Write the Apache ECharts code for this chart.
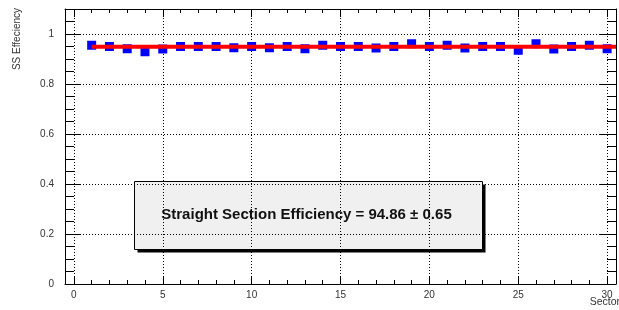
<!DOCTYPE html>
<html lang="en">
<head>
<meta charset="UTF-8">
<title>SS Effeciency</title>
<script src="https://cdn.jsdelivr.net/npm/echarts@6/dist/echarts.min.js"></script>
<style>
  html, body { margin: 0; padding: 0; background: #fff; }
  #main { width: 619px; height: 310px; }
</style>
</head>
<body>
<div id="main"></div>
<script>
// sectors 1..30 and the straight section efficiency per sector
var sectors = [1, 2, 3, 4, 5, 6, 7, 8, 9, 10, 11, 12, 13, 14, 15,
               16, 17, 18, 19, 20, 21, 22, 23, 24, 25, 26, 27, 28, 29, 30];
var efficiency = [0.955, 0.950, 0.941, 0.929, 0.940, 0.950, 0.950, 0.950, 0.945, 0.950,
                  0.945, 0.950, 0.941, 0.955, 0.950, 0.950, 0.944, 0.950, 0.961, 0.950,
                  0.955, 0.944, 0.950, 0.950, 0.935, 0.961, 0.940, 0.950, 0.955, 0.941];
// constant fit result
var fitValue = 0.9486;
var fitStart = 1;
var xMin = -0.5, xMax = 30.5;
var yMin = 0, yMax = 1.1;
var boxText = 'Straight Section Efficiency = 94.86 \u00b1 0.65';

var myChart = echarts.init(document.getElementById('main'));

var scatterData = sectors.map(function (s, i) { return [s, efficiency[i]]; });
var fitData = [[fitStart, fitValue], [xMax, fitValue]];

function xLabel(v) {
    var r = Math.round(v);
    return (Math.abs(v - r) < 1e-6 && r % 5 === 0) ? String(r) : '';
}
function yLabel(v) {
    var r = Math.round(v * 5) / 5;
    return (Math.abs(v - r) < 1e-6 && v <= 1.0001) ? String(+v.toFixed(1)) : '';
}

var lineBlack = { color: '#000', width: 1 };
var dotted = { color: '#000', width: 1, type: [1, 2] };

option = {
    animation: false,
    backgroundColor: '#fff',
    grid: { left: 65, right: -2, top: 9, bottom: 26 },
    xAxis: [
        {
            type: 'value', position: 'bottom', min: xMin, max: xMax,
            axisLine: { show: true, onZero: false, lineStyle: lineBlack },
            axisTick: { show: true, inside: true, length: 8, lineStyle: lineBlack },
            minorTick: { show: true, splitNumber: 5, length: 4, lineStyle: lineBlack },
            splitLine: { show: true, lineStyle: dotted },
            axisLabel: {
                formatter: xLabel, margin: 6, color: '#333',
                fontFamily: 'Liberation Sans', fontSize: 10,
                showMinLabel: true, showMaxLabel: true
            }
        },
        {
            type: 'value', position: 'top', min: xMin, max: xMax,
            axisLine: { show: true, onZero: false, lineStyle: lineBlack },
            axisTick: { show: true, inside: true, length: 8, lineStyle: lineBlack },
            minorTick: { show: true, splitNumber: 5, length: 4, lineStyle: lineBlack },
            splitLine: { show: false },
            axisLabel: { show: false }
        }
    ],
    yAxis: [
        {
            type: 'value', position: 'left', min: yMin, max: yMax,
            axisLine: { show: true, onZero: false, lineStyle: lineBlack },
            axisTick: { show: true, inside: true, length: 16, lineStyle: lineBlack },
            minorTick: { show: true, splitNumber: 4, length: 9, lineStyle: lineBlack },
            splitLine: { show: true, lineStyle: dotted },
            axisLabel: {
                formatter: yLabel, margin: 11, color: '#333',
                fontFamily: 'Liberation Sans', fontSize: 10
            }
        },
        {
            type: 'value', position: 'right', min: yMin, max: yMax,
            axisLine: { show: true, onZero: false, lineStyle: lineBlack },
            axisTick: { show: true, inside: true, length: 16, lineStyle: lineBlack },
            minorTick: { show: true, splitNumber: 4, length: 9, lineStyle: lineBlack },
            splitLine: { show: false },
            axisLabel: { show: false }
        }
    ],
    series: [
        {
            type: 'scatter',
            xAxisIndex: 0, yAxisIndex: 0,
            data: scatterData,
            symbol: 'rect',
            symbolSize: [9, 9],
            itemStyle: { color: '#0000ff', opacity: 1 },
            z: 3
        },
        {
            type: 'line',
            xAxisIndex: 0, yAxisIndex: 0,
            data: fitData,
            showSymbol: false,
            symbol: 'none',
            lineStyle: { color: '#ff0000', width: 4 },
            z: 4
        }
    ],
    graphic: [
        {
            type: 'text', x: 17, y: 8, rotation: Math.PI / 2,
            style: {
                text: 'SS Effeciency', fill: '#333',
                font: '10px "Liberation Sans"',
                align: 'right', verticalAlign: 'middle'
            }
        },
        {
            type: 'text', x: 620, y: 302,
            style: {
                text: 'Sector', fill: '#333',
                font: '10.5px "Liberation Sans"',
                align: 'right', verticalAlign: 'middle'
            }
        },
        {
            type: 'group', left: 134, top: 181, z: 100,
            children: [
                {
                    type: 'rect', x: 3, y: 3,
                    shape: { width: 348, height: 68 },
                    style: { fill: '#000' }
                },
                {
                    type: 'rect', x: 0, y: 0,
                    shape: { width: 348, height: 68 },
                    style: { fill: '#f0f0f0', stroke: '#000', lineWidth: 1 }
                },
                {
                    type: 'text', x: 172, y: 33,
                    style: {
                        text: boxText, fill: '#111',
                        font: 'bold 15px "Liberation Sans"',
                        align: 'center', verticalAlign: 'middle'
                    }
                }
            ]
        }
    ]
};

myChart.setOption(option);
</script>
</body>
</html>
